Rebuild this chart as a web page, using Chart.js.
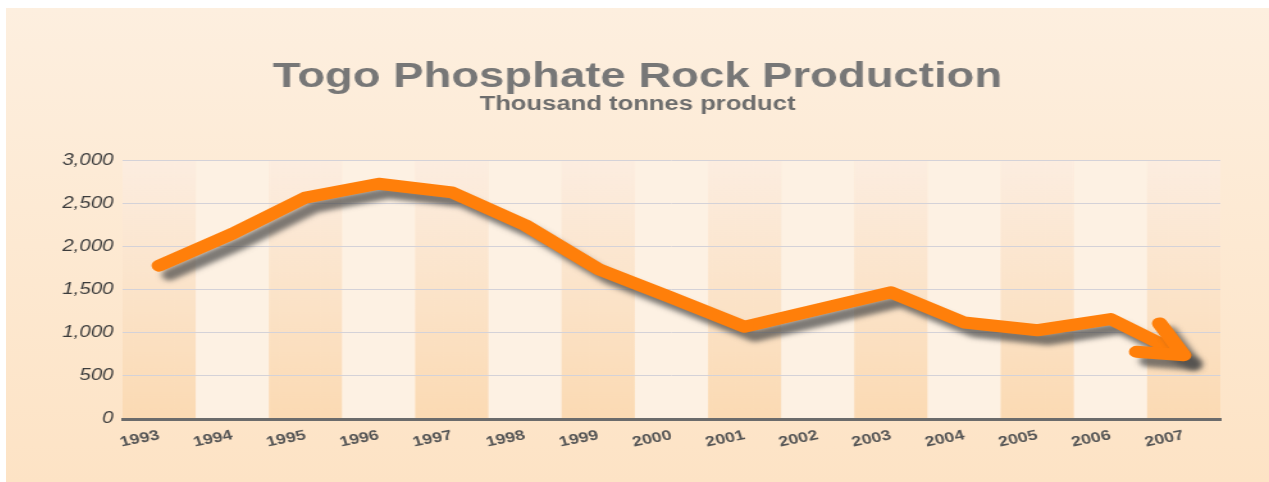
<!DOCTYPE html>
<html>
<head>
<meta charset="utf-8">
<script src="https://cdn.jsdelivr.net/npm/chart.js@4.4.1/dist/chart.umd.min.js"></script>
<style>
  html, body { margin: 0; padding: 0; background: #fff; }
  #wrap {
    position: absolute; left: 6px; top: 8px; width: 1263px; height: 474px;
    background: linear-gradient(#fdefdf, #fde3c5);
  }
</style>
</head>
<body>
<div id="wrap">
  <canvas id="chart" width="986" height="474" style="width:1263px;height:474px"></canvas>
</div>
<script>
const years = ['1993', '1994', '1995', '1996', '1997', '1998', '1999', '2000',
               '2001', '2002', '2003', '2004', '2005', '2006', '2007'];
const production = [1780, 2150, 2570, 2730, 2630, 2250, 1740, 1410,
                    1070, 1270, 1470, 1120, 1030, 1160, 740];
const yMin = 0;
const yMax = 3000;
const yStep = 500;

const font = '"Liberation Sans", Arial, sans-serif';

// alternating shaded columns behind each year
const columnBands = {
    id: 'columnBands',
    beforeDraw(chart) {
        const { ctx, chartArea: a, scales: { x } } = chart;
        const w = a.width / years.length;
        const grad = ctx.createLinearGradient(0, a.top, 0, a.bottom);
        grad.addColorStop(0, '#fcede0');
        grad.addColorStop(1, '#fbdab3');
        ctx.save();
        years.forEach((yr, i) => {
            const cx = x.getPixelForValue(i);
            ctx.fillStyle = i % 2 === 0 ? grad : '#fdf1e3';
            ctx.fillRect(cx - w / 2, a.top, w, a.bottom - a.top);
        });
        ctx.restore();
    },
};

// drop shadow under the line plus the arrow head at the last point
const shadowArrow = {
    id: 'shadowArrow',
    beforeDatasetDraw(chart) {
        const ctx = chart.ctx;
        ctx.save();
        ctx.shadowColor = 'rgba(70, 70, 70, 0.7)';
        ctx.shadowBlur = 5;
        ctx.shadowOffsetX = 8;
        ctx.shadowOffsetY = 9;
    },
    afterDatasetDraw(chart, args) {
        const ctx = chart.ctx;
        const pts = args.meta.data;
        const tip = pts[pts.length - 1];
        const prev = pts[pts.length - 2];
        const back = Math.atan2(prev.y - tip.y, prev.x - tip.x);
        const len = 37;
        const spread = 27 * Math.PI / 180;
        ctx.strokeStyle = '#ff7f0a';
        ctx.lineWidth = 12;
        ctx.lineCap = 'round';
        ctx.lineJoin = 'round';
        ctx.beginPath();
        ctx.moveTo(tip.x + len * Math.cos(back - spread), tip.y + len * Math.sin(back - spread));
        ctx.lineTo(tip.x, tip.y);
        ctx.lineTo(tip.x + len * Math.cos(back + spread), tip.y + len * Math.sin(back + spread));
        ctx.stroke();
        ctx.restore();
    },
};

new Chart(document.getElementById('chart'), {
    type: 'line',
    data: {
        labels: years,
        datasets: [
            {
                data: production,
                borderColor: '#ff7f0a',
                borderWidth: 12,
                borderCapStyle: 'round',
                borderJoinStyle: 'round',
                pointRadius: 0,
                tension: 0,
                fill: false,
            },
        ],
    },
    options: {
        responsive: false,
        animation: false,
        events: [],
        layout: { padding: 0 },
        plugins: {
            legend: { display: false },
            tooltip: { enabled: false },
            title: {
                display: true,
                text: 'Togo Phosphate Rock Production',
                color: '#777777',
                font: { family: font, size: 35.5, weight: 'bold', lineHeight: 1 },
                padding: { top: 51, bottom: 0 },
            },
            subtitle: {
                display: true,
                text: 'Thousand tonnes product',
                color: '#6d6d6d',
                font: { family: font, size: 20, weight: 'bold', lineHeight: 1 },
                padding: { top: 0, bottom: 46 },
            },
        },
        scales: {
            x: {
                offset: true,
                grid: { display: false },
                border: { display: true, color: '#6b6b6b', width: 3 },
                ticks: {
                    color: '#555555',
                    font: { family: font, size: 14, weight: 'bold' },
                    minRotation: 14,
                    maxRotation: 14,
                    padding: 0,
                },
                afterFit(s) { s.height = 63; },
            },
            y: {
                min: yMin,
                max: yMax,
                grid: { color: '#d4d2d8', lineWidth: 1, drawTicks: false },
                border: { display: false },
                ticks: {
                    stepSize: yStep,
                    color: '#3c3c3c',
                    padding: 7,
                    font: { family: font, size: 16, style: 'italic' },
                    callback: (v) => v.toLocaleString('en-US'),
                },
                afterFit(s) { s.width = 91; },
            },
            yRight: {
                position: 'right',
                min: yMin,
                max: yMax,
                grid: { display: false },
                border: { display: false },
                ticks: { display: false },
                afterFit(s) { s.width = 38; },
            },
        },
    },
    plugins: [columnBands, shadowArrow],
});
</script>
</body>
</html>
